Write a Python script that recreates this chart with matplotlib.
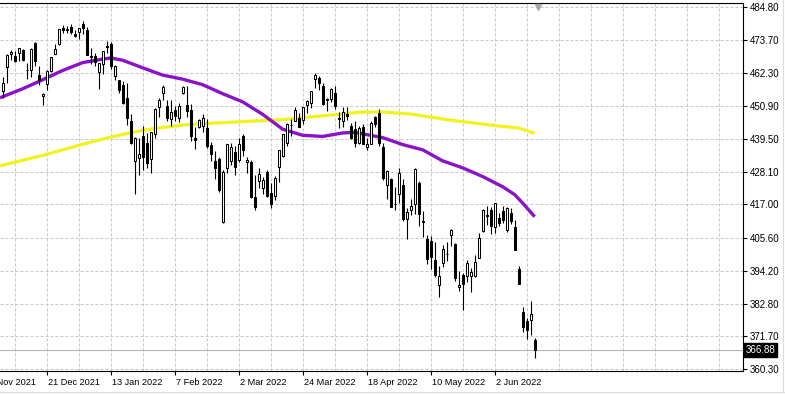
import numpy as np
import matplotlib.pyplot as plt
import matplotlib.transforms as mtransforms
from matplotlib.lines import Line2D

plt.rcParams['font.family'] = ['Liberation Sans', 'DejaVu Sans']

# daily candles, 6 Dec 2021 .. 16 Jun 2022
opens = [456.13, 464.41, 468.70, 468.15, 469.23, 470.19, 463.09, 463.42, 472.57, 461.55,
         454.48, 458.61, 462.79, 468.75, 472.06, 477.72, 476.98, 477.93, 475.64, 476.30,
         479.22, 477.16, 467.89, 467.95, 462.70, 465.23, 471.59, 472.19, 461.19, 459.74,
         458.13, 453.75, 445.56, 432.03, 433.06, 440.72, 438.26, 432.68, 441.24, 450.68,
         455.50, 450.95, 446.35, 449.51, 446.73, 455.22, 451.34, 449.41, 439.92, 443.73,
         443.93, 443.22, 437.33, 431.89, 432.66, 411.02, 429.61, 432.03, 435.04, 432.37,
         440.47, 431.75, 431.55, 419.62, 425.14, 422.52, 428.12, 420.89, 419.77, 429.89,
         433.59, 438.00, 444.34, 445.86, 446.91, 445.94, 451.16, 452.06, 460.02, 460.34,
         457.89, 453.31, 453.13, 455.22, 446.89, 445.59, 447.97, 444.11, 443.08, 438.03,
         443.55, 436.81, 437.86, 446.92, 448.54, 436.91, 423.67, 425.83, 417.24, 420.56,
         423.59, 412.07, 415.01, 417.08, 424.55, 411.10, 405.10, 404.49, 398.07, 389.37,
         396.71, 399.98, 406.53, 403.50, 388.62, 392.83, 392.31, 392.56, 392.31, 398.67,
         407.91, 413.55, 415.17, 409.42, 412.40, 414.78, 408.10, 413.93, 409.34, 394.88,
         379.85, 376.85, 377.36, 370.51]
highs = [460.79, 468.88, 470.00, 469.63, 470.90, 470.56, 465.74, 470.86, 472.87, 464.74,
         455.40, 463.21, 467.81, 472.19, 477.31, 478.81, 478.56, 479.00, 476.86, 477.85,
         479.98, 477.98, 470.82, 469.20, 465.74, 469.85, 473.20, 472.88, 465.09, 459.96,
         459.61, 458.74, 448.06, 440.38, 439.72, 444.04, 441.59, 442.00, 450.28, 453.63,
         458.12, 452.97, 452.78, 450.99, 451.92, 457.88, 457.71, 451.61, 443.50, 446.28,
         448.06, 446.57, 438.66, 435.50, 433.26, 428.76, 437.84, 438.20, 437.17, 439.72,
         441.11, 433.37, 432.30, 427.21, 429.51, 426.43, 428.77, 424.55, 426.84, 435.68,
         441.07, 444.86, 446.46, 450.58, 448.49, 450.50, 452.98, 455.91, 462.07, 461.20,
         458.76, 453.46, 456.91, 457.83, 448.93, 450.69, 450.63, 445.00, 445.75, 444.11,
         444.73, 439.75, 445.80, 447.57, 450.01, 438.08, 428.69, 426.04, 422.92, 429.64,
         425.87, 415.92, 418.93, 429.66, 425.00, 414.80, 406.41, 406.08, 404.04, 395.80,
         403.18, 403.97, 408.57, 403.80, 394.14, 393.31, 397.73, 395.15, 399.45, 407.04,
         415.38, 416.46, 416.24, 417.44, 414.04, 416.61, 416.22, 415.82, 411.74, 395.78,
         381.81, 377.94, 383.90, 370.94]
lows = [453.56, 458.65, 466.83, 466.14, 466.51, 466.27, 460.25, 460.74, 464.80, 458.06,
        451.14, 456.31, 462.58, 468.64, 472.01, 476.06, 475.92, 475.67, 474.67, 473.85,
        475.58, 468.28, 465.43, 464.65, 456.60, 462.05, 468.94, 463.44, 459.90, 455.31,
        451.46, 444.50, 437.95, 420.76, 427.15, 428.86, 429.45, 427.82, 439.81, 446.94,
        453.05, 445.71, 443.83, 445.85, 445.22, 455.01, 447.20, 438.94, 436.24, 443.18,
        441.94, 436.42, 431.82, 425.86, 421.35, 410.64, 427.86, 430.70, 427.11, 431.57,
        433.80, 427.88, 419.36, 415.12, 422.82, 420.44, 419.53, 415.79, 418.42, 424.80,
        433.19, 437.22, 440.68, 445.86, 443.71, 444.76, 448.43, 450.06, 457.18, 456.47,
        451.16, 449.14, 452.26, 449.82, 443.47, 443.53, 445.94, 439.39, 436.65, 437.84,
        437.68, 435.61, 437.68, 443.48, 437.10, 425.44, 418.84, 416.07, 415.01, 417.60,
        411.21, 405.02, 413.36, 413.71, 409.44, 405.73, 396.50, 394.82, 391.96, 385.15,
        395.61, 397.60, 402.58, 390.55, 387.11, 380.54, 390.38, 386.96, 391.89, 398.45,
        407.70, 410.03, 406.93, 407.04, 409.51, 410.55, 407.61, 410.38, 401.44, 389.75,
        373.30, 370.59, 372.12, 364.08]
closes = [458.79, 468.28, 469.52, 466.35, 470.74, 466.57, 463.36, 470.60, 466.45, 459.87,
          454.98, 463.06, 467.69, 470.60, 477.26, 476.87, 477.48, 476.16, 474.96, 477.71,
          477.55, 468.38, 467.94, 466.09, 465.51, 469.75, 471.02, 464.53, 464.72, 456.49,
          451.75, 446.75, 437.98, 439.84, 434.47, 433.38, 431.24, 441.95, 449.91, 452.95,
          457.35, 446.60, 448.70, 447.26, 450.94, 457.54, 449.32, 440.46, 439.02, 446.10,
          446.60, 437.06, 434.23, 429.57, 421.95, 428.30, 437.75, 436.63, 429.98, 437.89,
          435.71, 432.17, 419.43, 416.25, 427.41, 425.48, 420.07, 417.00, 426.17, 435.62,
          441.07, 444.52, 444.39, 449.59, 443.80, 450.49, 452.69, 455.91, 461.55, 458.70,
          451.64, 452.92, 456.80, 451.03, 446.52, 448.77, 447.57, 439.92, 438.29, 443.31,
          437.79, 437.97, 445.04, 444.71, 438.06, 426.04, 428.51, 416.10, 417.27, 427.81,
          412.00, 414.48, 416.38, 429.06, 413.81, 411.34, 398.17, 399.09, 392.75, 392.34,
          401.72, 400.09, 408.32, 391.86, 389.46, 389.63, 396.92, 393.89, 397.37, 405.31,
          415.26, 412.93, 409.59, 417.39, 410.54, 411.79, 415.74, 411.22, 401.44, 389.80,
          375.00, 373.87, 379.20, 366.88]

# moving averages read at a few bars
ma_fast_idx = [-0.7, 5, 10, 15, 20, 25, 27, 30, 35, 40, 45, 50, 55, 60, 65, 70, 75, 80,
               85, 88, 90, 95, 100, 105, 110, 115, 120, 125, 128, 130, 133]
ma_fast = [453.7, 456.8, 459.9, 463.1, 465.8, 467.0, 467.4, 466.6, 464.0, 461.5, 460.1,
           458.2, 455.1, 452.3, 448.0, 442.9, 440.8, 440.4, 441.6, 441.8, 441.3, 440.0,
           437.6, 435.8, 432.0, 429.6, 426.6, 423.1, 420.4, 417.5, 412.8]
ma_slow_idx = [-0.7, 10, 20, 25, 30, 35, 40, 45, 50, 60, 70, 80, 90, 95, 102, 112, 122,
               129, 133]
ma_slow = [430.3, 433.9, 437.7, 439.5, 441.1, 442.5, 443.5, 444.3, 444.8, 445.5, 446.2,
           447.5, 448.8, 448.8, 448.1, 446.0, 444.3, 443.3, 441.5]

date_labels = ['29 Nov 2021', '21 Dec 2021', '13 Jan 2022', '7 Feb 2022', '2 Mar 2022',
               '24 Mar 2022', '18 Apr 2022', '10 May 2022', '2 Jun 2022']
date_idx = [-5, 11, 27, 43, 59, 75, 91, 107, 123]
price_ticks = [360.30, 371.70, 382.80, 394.20, 405.60, 417.00, 428.10, 439.50,
               450.90, 462.30, 473.70, 484.80]

W, H = 785, 395
fig = plt.figure(figsize=(W / 100, H / 100), dpi=100)
ax = fig.add_axes([0, 1 - 371 / H, 743 / W, 368 / H])

o = np.array(opens)
h = np.array(highs)
l = np.array(lows)
c = np.array(closes)
x = np.arange(len(c))
up = c >= o

ax.plot(ma_slow_idx, ma_slow, color='#f2f21e', lw=2.3, zorder=2,
        solid_capstyle='butt', solid_joinstyle='round')
ax.plot(ma_fast_idx, ma_fast, color='#8a12c8', lw=2.4, zorder=2,
        solid_capstyle='butt', solid_joinstyle='round')

ax.vlines(x, l, h, color='black', lw=0.8, zorder=3)
ax.bar(x[up], (c - o)[up], bottom=o[up], width=0.55, color='white',
       edgecolor='black', linewidth=0.75, zorder=4)
ax.bar(x[~up], (o - c)[~up], bottom=c[~up], width=0.55, color='black',
       edgecolor='black', linewidth=0.75, zorder=4)

# last price line + label
ax.axhline(c[-1], color='#b4b4b4', lw=0.8, zorder=1)
ax.text(1.004, c[-1], f'{c[-1]:.2f}', transform=ax.get_yaxis_transform(),
        ha='left', va='center', fontsize=7, color='white', clip_on=False,
        bbox=dict(boxstyle='square,pad=0.18', fc='black', ec='black'))

ax.set_xlim(-0.675, 185.1)
ax.set_ylim(359.72, 486.3)

ax.yaxis.tick_right()
ax.set_yticks(price_ticks)
ax.set_yticklabels([f'{v:.2f}' for v in price_ticks])
ax.tick_params(axis='y', length=3, width=0.8, pad=2, labelsize=7, colors='black')

ax.set_xticks(date_idx[1:])
ax.set_xticklabels([])
ax.set_xticks(np.arange(3, 185, 8), minor=True)
ax.tick_params(axis='x', which='major', length=3, width=0.8, direction='out')
ax.tick_params(axis='x', which='minor', length=0)
ax.xaxis.remove_overlapping_locs = False

grid_kw = dict(color='#c8c8c8', lw=0.72, linestyle=(0, (3, 2)))
ax.grid(True, axis='y', **grid_kw)
ax.grid(True, axis='x', which='minor', **grid_kw)
ax.set_axisbelow(True)

xt = mtransforms.blended_transform_factory(ax.transData, ax.transAxes)
for lab, i in zip(date_labels, date_idx):
    ax.text(i + 0.3, -0.018, lab, transform=xt, ha='left', va='top', fontsize=6.6,
            clip_on=False)

# chart shift marker at the top
ax.plot([len(c) - 0.2], [0.99], marker='v', ms=4.5, color='#a8a8a8', transform=xt,
        clip_on=False, zorder=5)

for side in ['top', 'bottom', 'right']:
    ax.spines[side].set_linewidth(0.8)
    ax.spines[side].set_color('black')
ax.spines['left'].set_visible(False)

fig.add_artist(Line2D([0, 1], [3 / H, 3 / H], color='#dcdcdc', lw=0.8))
fig.add_artist(Line2D([1 - 2 / W, 1 - 2 / W], [3 / H, 1], color='#dcdcdc', lw=0.8))

fig.savefig('out.png', dpi=100)
